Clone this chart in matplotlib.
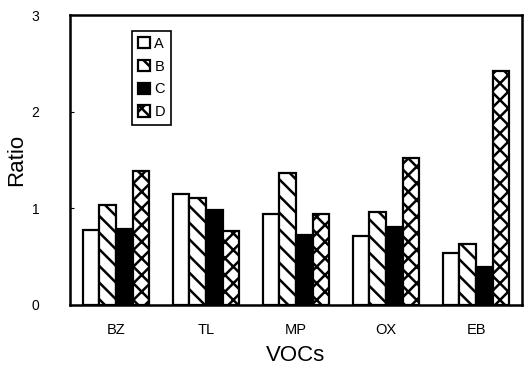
import numpy as np
import matplotlib.pyplot as plt

plt.rcParams['font.family'] = ['Liberation Sans', 'DejaVu Sans']
plt.rcParams['hatch.linewidth'] = 1.8

vocs = ['BZ', 'TL', 'MP', 'OX', 'EB']
series = ['A', 'B', 'C', 'D']
ratio_a = [0.78, 1.15, 0.94, 0.71, 0.54]
ratio_b = [1.03, 1.11, 1.37, 0.96, 0.63]
ratio_c = [0.79, 0.98, 0.72, 0.81, 0.39]
ratio_d = [1.39, 0.77, 0.94, 1.52, 2.42]

values = [ratio_a, ratio_b, ratio_c, ratio_d]
fills = ['white', 'white', 'black', 'white']
hatches = [None, '\\\\', None, 'xx']

fig = plt.figure(figsize=(5.24, 3.69), dpi=100)
ax = fig.add_axes([70/524, 64/369, 452/524, 290/369])

x = np.arange(len(vocs))
w = 0.185
for i, (vals, fc, h) in enumerate(zip(values, fills, hatches)):
    ax.bar(x + (i - 1.5) * w, vals, w, color=fc, edgecolor='black',
           linewidth=1.6, hatch=h, label=series[i])

ax.set_xlim(-0.51, 4.51)
ax.set_ylim(0, 3)
ax.set_xticks(x)
ax.set_xticklabels(vocs, fontsize=10.5)
ax.set_yticks([0, 1, 2, 3])
ax.tick_params(axis='x', length=0, pad=13)
ax.tick_params(axis='y', direction='in', length=3, labelsize=10, pad=22)
for s in ax.spines.values():
    s.set_linewidth(1.8)

ax.set_ylabel('Ratio', fontsize=16, labelpad=3)
ax.set_xlabel('VOCs', fontsize=16, labelpad=6)

leg = ax.legend(loc='upper left', bbox_to_anchor=(0.138, 0.945), fontsize=10.5,
                fancybox=False, edgecolor='black', framealpha=1,
                handlelength=0.8, handleheight=0.8, handletextpad=0.3,
                labelspacing=0.6, borderpad=0.4, borderaxespad=0)
leg.get_frame().set_linewidth(1.2)

fig.savefig('out.png', dpi=100)
